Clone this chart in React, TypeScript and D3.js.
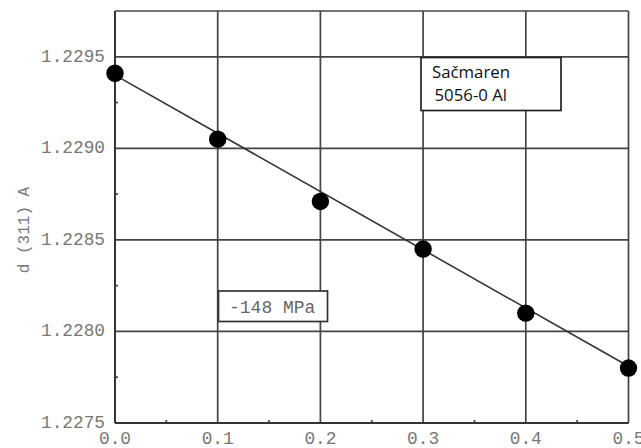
import React from "react";
import * as d3 from "d3";

const xValues = [0.0, 0.1, 0.2, 0.3, 0.4, 0.5];
const dValues = [1.22941, 1.22905, 1.22871, 1.22845, 1.2281, 1.2278];
const fitX = [0.0, 0.5];
const fitD = [1.2294, 1.22781];
const xTicks = [0.0, 0.1, 0.2, 0.3, 0.4, 0.5];
const yTicks = [1.2275, 1.228, 1.2285, 1.229, 1.2295];
const xMinor = [0.05, 0.15, 0.25, 0.35, 0.45];
const yMinor = [1.22775, 1.22825, 1.22875, 1.22925];
const yLabel = "d (311) A";
const stressLabel = "-148 MPa";
const sampleLines = ["Sačmaren", "5056-0 Al"];

const W = 641;
const H = 448;
const left = 115;
const right = 628.5;
const top = 11;
const bottom = 423;

export default function App() {
  const x = d3.scaleLinear().domain([0, 0.5]).range([left, right]);
  const y = d3.scaleLinear().domain([1.2275, 1.22975]).range([bottom, top]);
  const line = d3
    .line<number>()
    .x((_, i) => x(fitX[i]))
    .y((d) => y(d));
  const mono = "'Liberation Mono', 'DejaVu Sans Mono', monospace";
  const grid = "#444";
  return (
    <svg
      width={W}
      height={H}
      style={{ position: "absolute", left: 0, top: 0, overflow: "hidden", background: "#fff" }}
    >
      {/* grid */}
      {yTicks.map((t) => (
        <line key={"gy" + t} x1={left} x2={right} y1={y(t)} y2={y(t)} stroke={grid} strokeWidth={1.7} />
      ))}
      <line x1={left} x2={right} y1={top} y2={top} stroke={grid} strokeWidth={1.7} />
      {xTicks.map((t) => (
        <line key={"gx" + t} x1={x(t)} x2={x(t)} y1={top} y2={bottom} stroke={grid} strokeWidth={1.7} />
      ))}
      {/* minor ticks */}
      {xMinor.map((t) => (
        <line key={"mx" + t} x1={x(t)} x2={x(t)} y1={bottom} y2={bottom - 3} stroke={grid} strokeWidth={1.7} />
      ))}
      {yMinor.map((t) => (
        <line key={"my" + t} x1={left} x2={left + 3} y1={y(t)} y2={y(t)} stroke={grid} strokeWidth={1.7} />
      ))}
      {/* axes */}
      <line x1={left} x2={left} y1={top} y2={bottom} stroke="#333" strokeWidth={1.9} />
      <line x1={left} x2={right} y1={bottom} y2={bottom} stroke="#333" strokeWidth={1.9} />
      {/* fit line */}
      <path d={line(fitD) || ""} fill="none" stroke="#333" strokeWidth={1.6} />
      {/* points */}
      {dValues.map((d, i) => (
        <circle key={"p" + i} cx={x(xValues[i])} cy={y(d)} r={8.7} fill="#000" />
      ))}
      {/* tick labels */}
      {yTicks.map((t) => (
        <text
          key={"ly" + t}
          x={105}
          y={y(t)}
          textAnchor="end"
          dominantBaseline="central"
          fontFamily={mono}
          fontSize={17.8}
          fill="#777"
        >
          {t.toFixed(4)}
        </text>
      ))}
      {xTicks.map((t) => (
        <text
          key={"lx" + t}
          x={x(t)}
          y={444}
          textAnchor="middle"
          fontFamily={mono}
          fontSize={17.8}
          fill="#777"
        >
          {t.toFixed(1)}
        </text>
      ))}
      {/* y label */}
      <text
        transform={`translate(29,230) rotate(-90)`}
        textAnchor="middle"
        fontFamily={mono}
        fontSize={16}
        fill="#777"
      >
        {yLabel}
      </text>
      {/* sample box */}
      <rect x={421} y={57.5} width={140} height={53} fill="#fff" stroke="#222" strokeWidth={1.7} />
      {sampleLines.map((s, i) => (
        <text
          key={"s" + i}
          x={i === 0 ? 432 : 434.5}
          y={77.5 + i * 23}
          fontFamily="'Open Sans', 'Noto Sans', sans-serif"
          fontSize={16.8}
          fill="#111"
        >
          {s}
        </text>
      ))}
      {/* stress box */}
      <rect x={218.5} y={291} width={109} height={30.5} fill="#fff" stroke="#333" strokeWidth={1.7} />
      <text x={229} y={312.5} fontFamily={mono} fontSize={18} fill="#666">
        {stressLabel}
      </text>
    </svg>
  );
}
